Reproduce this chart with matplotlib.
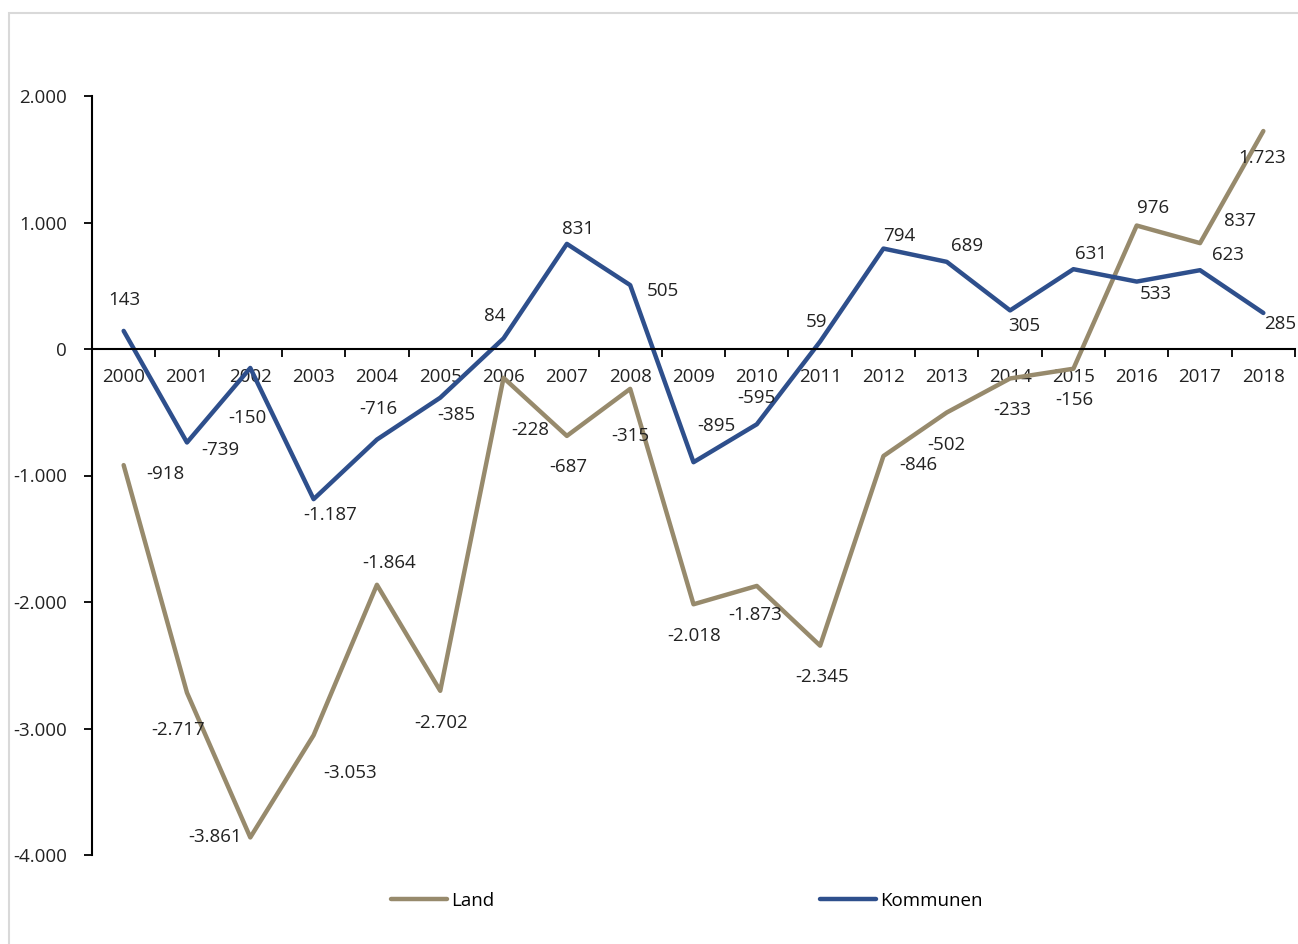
import numpy as np
import matplotlib.pyplot as plt
from matplotlib.patches import Rectangle

plt.rcParams['font.family'] = ['Open Sans', 'DejaVu Sans']

years = [str(y) for y in range(2000, 2019)]
land = [-918, -2717, -3861, -3053, -1864, -2702, -228, -687, -315, -2018,
        -1873, -2345, -846, -502, -233, -156, 976, 837, 1723]
kommunen = [143, -739, -150, -1187, -716, -385, 84, 831, 505, -895,
            -595, 59, 794, 689, 305, 631, 533, 623, 285]

# label offsets in pixels (dx, dy)
land_off = [(42, -9), (-9, -37), (-35, 0), (36, -38), (12, 22), (1, -32),
            (27, -52), (1, -31), (0, -47), (1, -32), (-2, -29), (2, -31),
            (35, -9), (0, -32), (2, -32), (1, -31), (16, 18), (40, 22), (-1, -27)]
komm_off = [(1, 31), (33, -8), (-3, -50), (17, -16), (1, 31), (16, -17),
            (-9, 22), (11, 15), (33, -6), (23, 36), (0, 26), (-4, 20),
            (16, 13), (20, 16), (14, -16), (18, 15), (19, -12), (28, 15), (17, -11)]

c_land = '#978a6c'
c_komm = '#2e4f8c'
fs = 13.5

fig = plt.figure(figsize=(12.98, 9.44), dpi=100)
fig.patches.append(Rectangle((9 / 1298, -0.1), 1.2, 1.1 - 13 / 944,
                             transform=fig.transFigure, fill=False,
                             edgecolor='#d9d9d9', lw=1.5))
ax = fig.add_axes([92 / 1298, 1 - 855 / 944, 1203 / 1298, 759 / 944])

for s in ['top', 'right']:
    ax.spines[s].set_visible(False)
ax.spines['bottom'].set_position(('data', 0))
ax.spines['bottom'].set_linewidth(1.5)
ax.spines['left'].set_linewidth(1.5)
ax.set_facecolor('none')

x = np.arange(len(years))
ax.plot(x, land, color=c_land, lw=3.2, label='Land', solid_capstyle='round')
ax.plot(x, kommunen, color=c_komm, lw=3.2, label='Kommunen', solid_capstyle='round')

for i in range(len(years)):
    ax.annotate(f'{land[i]:,}'.replace(',', '.'), (x[i], land[i]),
                xytext=land_off[i], textcoords='offset pixels',
                ha='center', va='center', fontsize=fs, color='#222222',
                annotation_clip=False)
    ax.annotate(f'{kommunen[i]:,}'.replace(',', '.'), (x[i], kommunen[i]),
                xytext=komm_off[i], textcoords='offset pixels',
                ha='center', va='center', fontsize=fs, color='#222222',
                annotation_clip=False)

ax.set_xlim(-0.5, len(years) - 0.5)
ax.set_ylim(-4000, 2000)
ax.set_yticks(np.arange(-4000, 2001, 1000))
ax.set_yticklabels([f'{v:,}'.replace(',', '.') for v in range(-4000, 2001, 1000)])
ax.set_xticks(x)
ax.set_xticklabels(years)
ax.set_xticks(np.arange(-0.5, len(years), 1), minor=True)
ax.tick_params(axis='x', which='major', length=0, pad=14,
               labelsize=fs, labelcolor='#222222')
ax.tick_params(axis='x', which='minor', length=6, width=1.3, direction='out')
ax.tick_params(axis='y', length=6, width=1.3, pad=12,
               labelsize=fs, labelcolor='#222222')

fig.legend(loc='center', bbox_to_anchor=(0.529, 1 - 901 / 944), ncol=2,
           frameon=False, fontsize=fs, handlelength=3.0, handletextpad=0.2,
           columnspacing=17.4)

fig.savefig('out.png', dpi=100)
